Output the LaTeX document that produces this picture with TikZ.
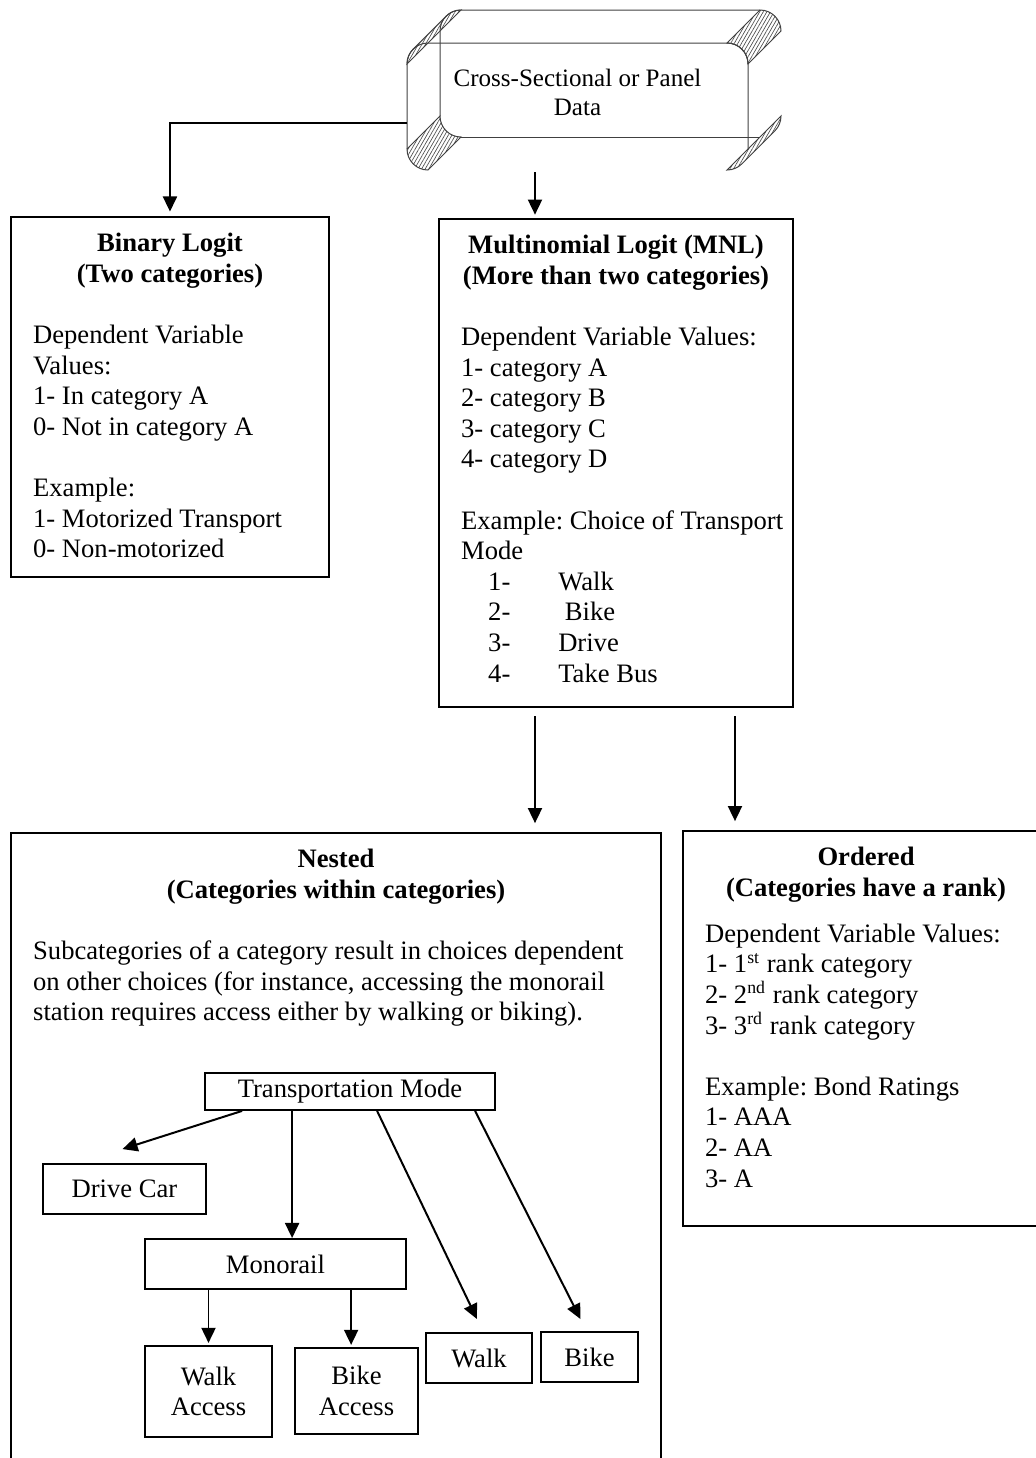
\documentclass[tikz,border=0pt]{standalone}
\usepackage{fontspec}
\setmainfont{Liberation Serif}
\frenchspacing
\usetikzlibrary{arrows.meta, positioning, calc, patterns.meta}

\tikzset{
  panel/.style={draw, line width=0.9pt, anchor=north west, inner xsep=10pt, inner ysep=6pt,
                font=\fontsize{12}{13.8}\selectfont},
  leaf/.style={draw, line width=0.8pt, inner sep=0pt, align=center,
               font=\fontsize{12}{13.8}\selectfont},
  flow/.style={-{Triangle[length=6.8pt, width=6.3pt]}, line width=0.9pt},
  bevel/.style={draw=black!75, line width=0.45pt},
  hatch/.style={bevel, pattern={Lines[angle=60, distance=1.4pt, line width=0.3pt]}, pattern color=black!70},
}

\begin{document}
\begin{tikzpicture}[x=0.451pt, y=0.451pt]
    \useasboundingbox (0,0) rectangle (1036,-1458);
    \clip (0,0) rectangle (1036,-1458);

    % data block (bevelled)
    \draw[hatch] (407,-64) arc[start angle=180, end angle=135, radius=21] -- ++(33,33)
        arc[start angle=135, end angle=90, radius=21] -- cycle;
    \draw[hatch] (727,-43) -- (760,-10) arc[start angle=90, end angle=0, radius=21] -- (748,-64)
        arc[start angle=0, end angle=90, radius=21] -- cycle;
    \draw[hatch] (407,-149) arc[start angle=180, end angle=270, radius=21] -- (461,-137)
        arc[start angle=270, end angle=180, radius=21] -- cycle;
    \draw[hatch] (727,-170) arc[start angle=270, end angle=315, radius=21] -- ++(33,33)
        arc[start angle=315, end angle=360, radius=21] -- cycle;
    \draw[bevel] (748,-149) -- (748,-64) arc[start angle=0, end angle=90, radius=21] -- (428,-43)
        arc[start angle=90, end angle=180, radius=21] -- (407,-149);
    \draw[bevel] (440,-116) -- (440,-31) arc[start angle=180, end angle=90, radius=21] -- (760,-10);
    \draw[bevel] (461,-137) -- (760,-137);
    \node[align=center, font=\fontsize{11.3}{13.3}\selectfont] (data) at (577.5,-92.5)
        {Cross-Sectional or Panel\\Data};
    \coordinate (dataL) at (407,-123);
    \coordinate (dataB) at (535,-172);

    % model boxes
    \node[panel] (binary) at (10,-216) {\parbox[t][150.4pt][t]{123.4pt}{%
        {\centering\bfseries\strut Binary Logit\\(Two categories)\par}\vspace{13.8pt}\raggedright
        Dependent Variable\\Values:\\1- In category A\\0- Not in category A\\[13.8pt]
        Example:\\1- Motorized Transport\\0- Non-motorized}};
    \node[panel] (mnl) at (438,-218) {\parbox[t][208.1pt][t]{139.7pt}{%
        {\centering\bfseries\strut Multinomial Logit (MNL)\\(More than two categories)\par}\vspace{13.8pt}\raggedright
        Dependent Variable Values:\\1- category A\\2- category B\\3- category C\\4- category D\\[13.8pt]
        \mbox{Example: Choice of Transport}\\Mode\\
        \hspace*{12.2pt}\makebox[31.6pt][l]{1-}Walk\\
        \hspace*{12.2pt}\makebox[31.6pt][l]{2-} Bike\\
        \hspace*{12.2pt}\makebox[31.6pt][l]{3-}Drive\\
        \hspace*{12.2pt}\makebox[31.6pt][l]{4-}Take Bus}};
    \node[panel] (nested) at (10,-832) {\parbox[t][276.6pt][t]{273.2pt}{%
        {\centering\bfseries\strut Nested\\(Categories within categories)\par}\vspace{13.8pt}\raggedright
        Subcategories of a category result in choices dependent\\
        on other choices (for instance, accessing the monorail\\
        station requires access either by walking or biking).}};
    \node[panel] (ordered) at (682,-830) {\parbox[t][166.1pt][t]{145.1pt}{%
        {\centering\bfseries\strut Ordered\\(Categories have a rank)\par}\vspace{6.9pt}\raggedright
        Dependent Variable Values:\\1- 1\textsuperscript{st} rank category\\
        2- 2\textsuperscript{nd} rank category\\3- 3\textsuperscript{rd} rank category\\[13.8pt]
        Example: Bond Ratings\\1- AAA\\2- AA\\3- A}};

    % nested tree
    \node[leaf, minimum width=130.8pt, minimum height=16.7pt] (mode) at (350,-1091.5) {Transportation Mode};
    \node[leaf, minimum width=73.5pt, minimum height=22.6pt] (car) at (124.5,-1189) {Drive Car};
    \node[leaf, minimum width=117.7pt, minimum height=22.6pt] (mono) at (275.5,-1264) {Monorail};
    \node[leaf, minimum width=57.3pt, minimum height=41pt] (walkacc) at (208.5,-1391.5) {Walk\\Access};
    \node[leaf, minimum width=55.5pt, minimum height=38.8pt] (bikeacc) at (356.5,-1391) {Bike\\Access};
    \node[leaf, minimum width=47.8pt, minimum height=22.6pt] (walk) at (479,-1358) {Walk};
    \node[leaf, minimum width=43.7pt, minimum height=22.6pt] (bike) at (589.5,-1357) {Bike};

    % connectors
    \draw[flow, shorten >=2pt] (dataL) -| (binary.north);
    \draw[flow, shorten >=1.5pt] (dataB) -- (dataB |- mnl.north);
    \coordinate (mnlL) at ($(mnl.south west)+(97,0)$);
    \coordinate (mnlR) at ($(mnl.south west)+(297,0)$);
    \draw[flow, shorten <=3.6pt, shorten >=4pt] (mnlL) -- (mnlL |- nested.north);
    \draw[flow, shorten <=3.6pt, shorten >=4pt] (mnlR) -- (mnlR |- ordered.north);

    \coordinate (modeA) at ($(mode.south west)+(88,0)$);
    \coordinate (monoB) at ($(mono.south west)+(207,0)$);
    \draw[flow] ($(mode.south west)+(38,0)$) -- ($(car.north)+(-2,14)$);
    \draw[flow] (modeA) -- (modeA |- mono.north);
    \draw[flow] ($(mode.south west)+(173,0)$) -- ($(walk.north)+(-2,13)$);
    \draw[flow] ($(mode.south west)+(271,0)$) -- ($(bike.north)+(-9,12)$);
    \draw[flow] (walkacc.north |- mono.south) -- ([yshift=1pt]walkacc.north);
    \draw[flow] (monoB) -- ([yshift=1pt]monoB |- bikeacc.north);
\end{tikzpicture}
\end{document}
